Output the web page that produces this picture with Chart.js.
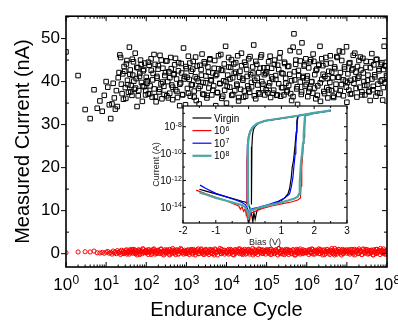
<!DOCTYPE html>
<html>
<head>
<meta charset="utf-8">
<script src="https://cdn.jsdelivr.net/npm/chart.js@4/dist/chart.umd.min.js"></script>
<style>
  html, body { margin: 0; padding: 0; background: #fff; }
  #wrap { position: relative; width: 398px; height: 322px; }
  #main { position: absolute; left: 0; top: 0; }
  #inset { position: absolute; left: 140px; top: 98px; }
</style>
</head>
<body>
<div id="wrap">
  <canvas id="main" width="398" height="322"></canvas>
  <canvas id="inset" width="215" height="152"></canvas>
</div>
<script>
// main plot: endurance, current (nA) vs cycle
const xTickValues = [1, 10, 100, 1e3, 1e4, 1e5, 1e6, 1e7, 1e8];
const xTickPowers = ['0', '1', '2', '3', '4', '5', '6', '7', '8'];
const yTicks = [0, 10, 20, 30, 40, 50];

const endCycles = [
  1, 2, 3, 4, 5, 6, 7, 8, 9, 10,
  11, 12, 13, 14, 15, 16, 17, 18, 19, 20, 21, 22, 23, 24, 25, 26, 27, 28,
  30, 32, 34, 36, 38, 40, 42, 44, 46, 48, 50, 53, 56, 59, 62, 65, 68, 72, 76, 80, 84, 88, 92, 96, 100,
  106, 112, 118, 125, 132, 140, 148, 157, 166, 176, 186, 197, 208, 220, 233, 246, 260, 275, 290, 307,
  325, 344, 364, 385, 407, 430, 455, 480, 510, 540, 570, 600, 640, 680, 720, 760, 800, 850, 900, 950,
  1000, 1060, 1120, 1180, 1250, 1320, 1400, 1480, 1570, 1660, 1760, 1860, 1970, 2080, 2200, 2330, 2460, 2600, 2750, 2900,
  3070, 3250, 3440, 3640, 3850, 4070, 4300, 4550, 4800, 5100, 5400, 5700, 6000, 6400, 6800, 7200, 7600, 8000, 8500, 9000, 9500,
  1.0e4, 1.07e4, 1.13e4, 1.2e4, 1.27e4, 1.35e4, 1.43e4, 1.52e4, 1.61e4, 1.7e4, 1.8e4, 1.9e4, 2.0e4, 2.12e4, 2.25e4, 2.38e4, 2.52e4, 2.67e4, 2.83e4, 3.0e4,
  3.18e4, 3.37e4, 3.57e4, 3.78e4, 4.0e4, 4.24e4, 4.5e4, 4.77e4, 5.05e4, 5.35e4, 5.67e4, 6.0e4, 6.36e4, 6.74e4, 7.14e4, 7.57e4, 8.02e4, 8.5e4, 9.0e4, 9.5e4,
  1.0e5, 1.06e5, 1.12e5, 1.19e5, 1.26e5, 1.33e5, 1.41e5, 1.5e5, 1.58e5, 1.68e5, 1.78e5, 1.88e5, 2.0e5, 2.1e5, 2.24e5, 2.37e5, 2.51e5, 2.7e5, 2.82e5, 2.99e5,
  3.16e5, 3.35e5, 3.55e5, 3.76e5, 3.98e5, 4.2e5, 4.57e5, 4.8e5, 5.0e5, 5.3e5, 5.6e5, 5.9e5, 6.2e5, 6.45e5, 6.9e5, 7.3e5, 7.6e5, 8.1e5, 8.6e5, 9.1e5, 9.5e5,
  1.0e6, 1.06e6, 1.12e6, 1.19e6, 1.26e6, 1.33e6, 1.41e6, 1.5e6, 1.58e6, 1.68e6, 1.78e6, 1.88e6, 2.0e6, 2.14e6, 2.2e6, 2.37e6, 2.51e6, 2.66e6, 2.82e6, 2.99e6,
  3.16e6, 3.35e6, 3.55e6, 3.76e6, 3.98e6, 4.2e6, 4.47e6, 4.7e6, 5.0e6, 5.3e6, 5.6e6, 5.95e6, 6.3e6, 6.5e6, 6.9e6, 7.3e6, 7.8e6, 8.2e6, 8.7e6, 9.2e6, 9.8e6,
  1.0e7, 1.06e7, 1.12e7, 1.19e7, 1.26e7, 1.33e7, 1.41e7, 1.5e7, 1.58e7, 1.68e7, 1.78e7, 1.88e7, 2.0e7, 2.11e7, 2.24e7, 2.37e7, 2.51e7, 2.66e7, 2.82e7, 2.99e7,
  3.16e7, 3.35e7, 3.55e7, 3.8e7, 3.98e7, 4.2e7, 4.47e7, 4.7e7, 5.0e7, 5.3e7, 5.6e7, 5.95e7, 6.3e7, 6.7e7, 7.1e7, 7.5e7, 7.8e7, 8.2e7, 8.5e7, 9.0e7, 9.5e7, 1.0e8,
  // second pass of readings, between the ones above
  29, 31, 33, 35, 39, 41, 45, 49, 54, 58, 63, 69, 75, 81, 87, 97,
  104, 113, 122, 133, 144, 156, 170, 184, 200, 217, 236, 256, 278, 302, 328, 356, 386, 419, 455, 494, 536, 582, 632, 686, 745, 809, 878, 970,
  1040, 1130, 1220, 1330, 1440, 1560, 1700, 1840, 2000, 2170, 2360, 2560, 2780, 3020, 3280, 3560, 3860, 4190, 4550, 4940, 5360, 5820, 6320, 6860, 7450, 8090, 8780, 9700,
  1.04e4, 1.13e4, 1.22e4, 1.33e4, 1.44e4, 1.56e4, 1.7e4, 1.84e4, 2.0e4, 2.17e4, 2.36e4, 2.56e4, 2.78e4, 3.02e4, 3.28e4, 3.56e4, 3.86e4, 4.19e4, 4.55e4, 4.94e4, 5.36e4, 5.82e4, 6.32e4, 6.86e4, 7.45e4, 8.09e4, 8.78e4, 9.7e4,
  1.04e5, 1.13e5, 1.22e5, 1.33e5, 1.44e5, 1.56e5, 1.7e5, 1.84e5, 2.0e5, 2.17e5, 2.36e5, 2.56e5, 2.78e5, 3.02e5, 3.28e5, 3.56e5, 3.86e5, 4.19e5, 4.55e5, 4.94e5, 5.36e5, 5.82e5, 6.32e5, 6.86e5, 7.45e5, 8.09e5, 8.78e5, 9.7e5,
  1.04e6, 1.13e6, 1.22e6, 1.33e6, 1.44e6, 1.56e6, 1.7e6, 1.84e6, 2.0e6, 2.17e6, 2.36e6, 2.56e6, 2.78e6, 3.02e6, 3.28e6, 3.56e6, 3.86e6, 4.19e6, 4.55e6, 4.94e6, 5.36e6, 5.82e6, 6.32e6, 6.86e6, 7.45e6, 8.09e6, 8.78e6, 9.7e6,
  1.04e7, 1.13e7, 1.22e7, 1.33e7, 1.44e7, 1.56e7, 1.7e7, 1.84e7, 2.0e7, 2.17e7, 2.36e7, 2.56e7, 2.78e7, 3.02e7, 3.28e7, 3.56e7, 3.86e7, 4.19e7, 4.55e7, 4.94e7, 5.36e7, 5.82e7, 6.32e7, 6.86e7, 7.45e7, 8.09e7, 8.78e7, 9.7e7
];

// high resistance state (black squares)
const hrsCurrent = [
  46.9, 41.4, 33.5, 31.4, 38.1, 33.8, 35.5, 33.1, 36.8, 40.0,
  38.7, 34.6, 31.4, 34.8, 39.6, 36.2, 33.6, 37.9, 34.2, 40.9, 42.1, 46.2, 45.6, 39.4, 37.2, 41.8, 35.9, 43.5,
  38.6, 44.1, 40.3, 37.5, 48.0, 42.7, 39.1, 36.8, 41.5, 44.6, 38.2, 46.6, 40.7, 34.2, 43.2, 37.9, 41.2, 45.0, 39.8, 35.4, 42.5, 38.8, 44.3, 36.9, 41.0,
  40.2, 37.1, 43.8, 39.0, 45.3, 36.4, 41.9, 38.3, 44.0, 35.3, 40.8, 42.9, 37.6, 46.1, 39.5, 36.0, 43.1, 38.9, 41.4, 44.8,
  36.7, 40.0, 42.3, 37.3, 45.6, 39.2, 35.8, 41.6, 43.9, 38.1, 40.6, 36.3, 44.4, 34.4, 39.7, 42.0, 37.0, 47.8, 41.2, 34.6,
  43.0, 38.4, 45.9, 40.5, 36.6, 42.4, 39.3, 44.7, 37.8, 41.1, 35.6, 43.6, 40.1, 34.8, 38.9, 42.8, 46.4, 39.8, 37.0, 44.2,
  41.3, 36.2, 43.4, 38.5, 45.1, 40.4, 36.9, 42.0, 39.0, 44.9, 34.4, 41.7, 37.4, 43.0, 39.6, 46.3, 36.1, 42.6, 40.2, 38.0, 48.2,
  35.0, 41.5, 45.6, 38.7, 43.3, 36.8, 40.9, 44.1, 37.9, 42.2, 39.4, 46.0, 35.5, 41.0, 38.2, 43.7, 40.7, 36.4, 44.5, 36.6,
  42.8, 39.0, 45.3, 37.5, 41.6, 38.8, 43.4, 48.5, 40.3, 36.0, 44.0, 39.2, 42.1, 37.1, 45.7, 40.0, 38.4, 43.2, 36.9, 41.9,
  42.3, 37.4, 44.6, 39.7, 36.3, 43.1, 40.6, 38.0, 45.0, 41.4, 36.8, 43.8, 39.5, 45.5, 36.6, 42.0, 38.6, 36.9, 44.2, 40.8,
  37.6, 43.5, 39.1, 41.7, 37.2, 35.6, 48.0, 51.1, 40.4, 44.0, 38.3, 34.7, 42.6, 46.9, 39.9, 37.0, 49.0, 41.2, 43.6, 38.9, 45.3,
  40.7, 36.5, 43.2, 38.4, 45.1, 39.9, 37.3, 44.7, 41.6, 36.0, 42.9, 39.0, 44.0, 48.2, 35.4, 40.5, 43.7, 37.7, 41.2, 45.6,
  38.6, 36.2, 42.4, 39.8, 44.3, 37.9, 40.9, 36.3, 43.0, 38.3, 45.8, 41.0, 37.0, 47.1, 42.1, 39.3, 46.9, 36.7, 43.4, 40.1, 48.1,
  35.2, 41.8, 38.0, 44.4, 40.3, 37.2, 43.0, 39.6, 46.6, 42.2, 36.4, 40.8, 44.9, 38.7, 42.7, 37.6, 45.4, 40.0, 36.9, 43.3,
  39.2, 41.5, 37.8, 35.6, 44.6, 40.6, 38.1, 43.9, 41.1, 36.6, 45.2, 39.4, 42.5, 37.3, 44.0, 40.4, 35.7, 42.8, 48.2, 39.7, 43.6, 41.0,
  42.4, 36.1, 44.9, 39.3, 41.7, 37.6, 45.2, 40.1, 38.5, 43.3, 36.7, 41.9, 44.0, 39.0, 42.8, 37.9,
  39.6, 44.5, 37.2, 42.6, 40.4, 46.3, 36.5, 41.2, 43.7, 38.2, 45.0, 39.9, 37.0, 42.1, 44.8, 36.2, 40.9, 43.0, 38.7, 41.8, 45.4, 37.7, 42.5, 39.4, 44.2, 36.9, 40.6, 43.5,
  41.0, 37.3, 44.3, 39.2, 42.9, 36.4, 45.7, 40.7, 38.4, 43.8, 41.5, 37.1, 44.6, 39.7, 36.8, 42.2, 45.3, 40.2, 38.0, 43.1, 41.4, 37.5, 46.0, 39.5, 42.7, 36.6, 44.1, 40.0,
  38.9, 43.4, 40.6, 45.1, 37.0, 41.9, 44.4, 39.1, 36.3, 42.4, 46.6, 40.3, 37.8, 43.9, 41.2, 38.3, 45.8, 39.8, 42.0, 36.7, 44.7, 40.8, 37.4, 43.1, 46.2, 39.4, 41.6, 38.1,
  43.2, 39.0, 45.9, 41.1, 37.3, 44.0, 40.5, 36.9, 42.8, 46.7, 38.6, 41.8, 44.5, 39.6, 37.9, 43.6, 47.2, 40.2, 36.5, 42.3, 45.0, 38.8, 41.4, 44.8, 37.6, 40.9, 43.9, 39.3,
  41.3, 37.7, 44.6, 40.0, 46.4, 38.5, 42.6, 36.8, 43.8, 39.7, 45.3, 41.7, 37.2, 44.1, 40.7, 38.1, 46.0, 42.2, 36.6, 43.4, 39.4, 45.6, 41.0, 37.9, 44.9, 40.4, 42.9, 38.7,
  39.8, 44.2, 37.1, 42.7, 46.1, 40.6, 38.4, 43.5, 41.2, 45.7, 36.9, 42.0, 39.1, 44.7, 40.3, 37.6, 43.2, 46.5, 38.9, 41.6, 45.1, 37.4, 42.9, 40.1, 44.4, 38.6, 43.7, 41.4
];

// low resistance state (red circles)
const lrsCurrent = [
  0.2, 0.4, 0.45, 0.4, 0.6, 0.2, 0.15, 0.3, 0.1, 0.35,
  0.5, 0.1, 0.3, -0.1, 0.6, 0.2, 0.4, 0.0, 0.7, 0.3, 0.2, 0.5, -0.2, 0.8, 0.1, 0.4, 0.6, 0.0, 0.3, 0.9,
  0.2, 0.5, -0.1, 0.7, 0.4, 1.0, 0.1, 0.6, 0.3, 0.8, 0.2, -0.3, 0.5, 0.9, 0.1, 0.4, 0.7, 0.0, 1.1, 0.3, 0.6, 0.2, 0.8,
  0.4, -0.2, 0.9, 0.3, 0.6, 0.1, 1.0, 0.5, -0.1, 0.7, 0.2, 0.8, 0.4, 0.0, 1.1, 0.3, 0.6, -0.3, 0.9, 0.5,
  0.2, 0.7, -0.1, 1.0, 0.4, 0.1, 0.8, 0.3, 0.6, -0.2, 0.9, 0.5, 0.0, 0.7, 1.2, 0.2, 0.4, -0.1, 0.8, 0.3,
  0.6, 0.1, 0.9, -0.2, 0.5, 0.8, 0.2, 1.0, 0.4, -0.3, 0.7, 0.3, 1.1, 0.0, 0.6, 0.9, 0.2, -0.1, 0.8, 0.4,
  1.0, 0.1, 0.5, -0.2, 0.7, 0.3, 0.9, 0.0, 0.6, 1.1, 0.2, 0.4, -0.3, 0.8, 0.5, 0.1, 1.0, 0.3, 0.7, -0.1, 0.4,
  0.2, 0.8, -0.1, 0.5, 1.0, 0.3, 0.6, -0.3, 0.9, 0.1, 0.7, 0.4, 1.1, 0.0, 0.5, 0.8, -0.2, 0.3, 1.0, 0.6,
  0.1, 0.9, 0.4, -0.1, 0.7, 0.2, 1.2, 0.5, 0.0, 0.8, 0.3, -0.2, 0.6, 1.0, 0.4, 0.1, 0.9, 0.3, 0.7, -0.1,
  0.5, 0.9, 0.1, 0.6, -0.2, 1.0, 0.3, 0.7, 0.0, 0.8, 0.4, -0.3, 1.1, 0.2, 0.6, 0.9, -0.1, 0.5, 0.3, 1.0,
  0.1, 0.7, -0.2, 0.8, 0.4, 0.0, 0.9, 0.6, 0.2, -0.3, 1.0, 0.5, 0.3, 0.8, -0.1, 0.6, 0.1, 0.9, 0.4, 0.7, 0.2,
  0.3, 0.7, -0.2, 0.9, 0.4, 0.1, 1.0, 0.6, -0.1, 0.8, 0.2, 0.5, 1.1, 0.0, 0.7, 0.3, -0.3, 0.9, 0.5, 0.1,
  1.0, 0.4, 0.6, -0.2, 0.8, 0.2, 0.7, 0.0, 1.2, 0.4, -0.1, 0.6, 0.9, 0.3, 0.5, -0.3, 1.0, 0.1, 0.8, 0.4, 0.6,
  0.1, 0.6, 0.9, -0.1, 0.4, 1.0, 0.2, 0.7, -0.3, 0.5, 0.8, 0.0, 1.1, 0.3, 0.6, -0.2, 0.9, 0.4, 0.1, 1.0,
  0.5, -0.1, 0.7, 0.2, 0.8, 0.3, -0.3, 0.9, 0.6, 0.0, 1.0, 0.4, 0.7, -0.2, 0.5, 0.8, 0.1, 1.1, 0.3, 0.6, -0.1, 0.4,
  0.3, 0.7, -0.1, 0.5, 0.9, 0.2, 0.6, 1.0, 0.0, 0.4, 0.8, -0.2, 0.5, 1.1, 0.3, 0.7,
  0.2, 0.9, 0.5, -0.2, 0.7, 1.1, 0.3, 0.0, 0.8, 0.4, 1.0, -0.1, 0.6, 0.2, 0.9, 0.5, -0.3, 0.7, 1.2, 0.1, 0.4, 0.8, -0.1, 0.6, 1.0, 0.3, 0.5, 0.0,
  0.8, 0.2, 0.5, 1.0, -0.1, 0.7, 0.3, 0.9, 0.0, 0.6, 1.1, 0.4, -0.2, 0.8, 0.2, 0.5, 1.0, 0.1, 0.7, -0.3, 0.9, 0.4, 0.6, 1.2, 0.0, 0.3, 0.8, 0.5,
  0.4, 1.0, 0.1, 0.7, -0.2, 0.5, 0.9, 0.3, 0.6, 1.1, 0.0, 0.8, 0.2, -0.1, 0.7, 1.0, 0.4, 0.5, -0.3, 0.9, 0.2, 0.6, 1.1, 0.3, 0.8, 0.0, 0.5, 0.9,
  0.7, 0.3, 1.0, -0.1, 0.6, 0.2, 0.9, 0.5, 1.2, 0.0, 0.4, 0.8, -0.2, 0.6, 1.0, 0.3, 0.7, 0.1, 0.9, -0.3, 0.5, 0.8, 0.2, 1.1, 0.4, 0.0, 0.7, 0.3,
  0.5, 0.9, 0.2, 1.1, -0.1, 0.6, 0.4, 0.8, 0.0, 1.0, 0.3, 0.7, -0.2, 0.5, 0.9, 0.1, 0.6, 1.2, 0.3, -0.3, 0.8, 0.4, 1.0, 0.2, 0.7, 0.0, 0.5, 0.9,
  0.6, 0.2, 0.9, 0.4, -0.1, 1.0, 0.5, 0.8, 0.1, 0.7, -0.2, 1.1, 0.3, 0.6, 0.9, 0.0, 0.5, 0.8, -0.3, 0.4, 1.0, 0.2, 0.7, 1.2, 0.3, 0.6, -0.1, 0.8
];

// inset: I-V sweeps, bias (V) and current (A)
const insetXTicks = [-2, -1, 0, 1, 2, 3];
const insetYTicks = [1e-8, 1e-10, 1e-12, 1e-14];
const insetYPowers = ['-8', '-10', '-12', '-14'];
const seriesNames = ['Virgin', '10^6', '10^7', '10^8'];
const seriesColors = ['#000000', '#ff0000', '#0000ff', '#48a8a4'];

const virginV = [-1.5, -1.3, -1.0, -0.7, -0.4, -0.2, -0.1, 0.0, 0.05, 0.1, 0.13, 0.16, 0.2, 0.25, 0.3, 0.5, 0.8, 1.0, 1.1, 1.2,
  1.25, 1.3, 1.33, 1.37, 1.4, 1.42, 1.45, 1.47, 1.5, 2.0, 2.5, 2.0, 1.5, 1.0, 0.5, 0.3, 0.2, 0.15, 0.12, 0.1, 0.09, 0.09, 0.08];
const virginI = [2.2e-13, 1.6e-13, 1.0e-13, 6.3e-14, 4.0e-14, 2.8e-14, 2.5e-14, 1.6e-14, 6.3e-15, 2.5e-15, 7.9e-16, 4.0e-15, 1.3e-15, 5.0e-15, 7.9e-15, 1.1e-14, 2.0e-14, 3.2e-14, 5.0e-14, 1.0e-13,
  2.5e-13, 1.6e-12, 1.0e-11, 3.2e-11, 1.6e-10, 5.0e-10, 4.0e-9, 2.5e-8, 6.6e-8, 1.05e-7, 1.55e-7, 1.0e-7, 6.3e-8, 4.1e-8, 2.7e-8, 1.8e-8, 1.07e-8, 6.3e-9, 2.5e-9, 3.2e-10, 1.0e-11, 4.0e-14, 1.6e-14];

const cyc6V = [-1.6, -1.3, -1.0, -0.7, -0.45, -0.3, -0.25, -0.2, -0.15, -0.1, -0.07, -0.04, -0.02, 0.0, 0.03, 0.06, 0.1, 0.2, 0.4, 0.7,
  1.0, 1.3, 1.5, 1.58, 1.6, 1.62, 1.64, 1.66, 1.69, 1.71, 1.73, 2.0, 2.5, 2.0, 1.5, 1.0, 0.5, 0.25, 0.12, 0.05, 0.0, -0.03, -0.05, -0.05, -0.05];
const cyc6I = [1.9e-13, 1.0e-13, 5.6e-14, 3.2e-14, 1.8e-14, 1.26e-14, 7.1e-15, 1.1e-14, 5.0e-15, 7.9e-15, 2.5e-15, 5.0e-15, 7.9e-16, 2.0e-15, 1.0e-15, 3.2e-15, 4.0e-15, 5.0e-15, 7.9e-15, 1.26e-14,
  1.8e-14, 2.5e-14, 3.5e-14, 5.0e-14, 4.0e-13, 1.0e-11, 4.0e-11, 2.5e-10, 1.6e-9, 1.0e-8, 6.8e-8, 1.05e-7, 1.6e-7, 1.05e-7, 6.5e-8, 4.2e-8, 2.75e-8, 1.6e-8, 7.9e-9, 4.0e-9, 1.26e-9, 3.2e-10, 3.2e-11, 3.2e-13, 1.6e-14];

const cyc7V = [-1.48, -1.3, -1.0, -0.7, -0.4, -0.2, -0.1, -0.03, 0.0, 0.02, 0.05, 0.1, 0.3, 0.6, 0.9, 1.1, 1.25, 1.3, 1.35, 1.38,
  1.42, 1.44, 1.47, 1.49, 1.52, 2.0, 2.5, 2.0, 1.5, 1.0, 0.5, 0.25, 0.12, 0.05, 0.0, -0.03, -0.04, -0.04, -0.03];
const cyc7I = [4.5e-13, 2.5e-13, 1.1e-13, 6.3e-14, 3.5e-14, 2.3e-14, 1.6e-14, 7.9e-15, 3.2e-15, 1.6e-15, 5.0e-15, 7.9e-15, 1.0e-14, 1.6e-14, 2.8e-14, 5.0e-14, 1.0e-13, 3.2e-13, 1.6e-12, 1.0e-11,
  1.0e-10, 5.0e-10, 5.0e-9, 3.2e-8, 6.8e-8, 1.05e-7, 1.6e-7, 1.07e-7, 6.6e-8, 4.3e-8, 2.8e-8, 1.66e-8, 8.9e-9, 5.0e-9, 2.0e-9, 5.0e-10, 3.2e-11, 3.2e-13, 1.6e-14];

const cyc8V = [-1.5, -1.3, -1.0, -0.7, -0.4, -0.2, -0.1, -0.04, 0.0, 0.03, 0.06, 0.1, 0.3, 0.6, 0.9, 1.2, 1.4, 1.5, 1.54, 1.56,
  1.58, 1.6, 1.63, 1.66, 1.68, 1.7, 1.72, 2.0, 2.5, 2.0, 1.5, 1.0, 0.5, 0.25, 0.12, 0.05, 0.0, -0.02, -0.02, -0.02, -0.01];
const cyc8I = [1.26e-13, 8.9e-14, 5.0e-14, 3.2e-14, 2.0e-14, 1.5e-14, 1.0e-14, 5.0e-15, 1.8e-15, 4.0e-15, 7.9e-15, 6.3e-15, 8.9e-15, 1.4e-14, 2.0e-14, 3.2e-14, 4.5e-14, 6.3e-14, 1.0e-13, 6.3e-13,
  5.0e-12, 2.5e-11, 1.0e-10, 6.3e-10, 2.5e-9, 1.6e-8, 6.6e-8, 1.05e-7, 1.6e-7, 1.07e-7, 6.6e-8, 4.3e-8, 2.8e-8, 1.66e-8, 8.9e-9, 4.5e-9, 1.6e-9, 4.0e-10, 3.2e-11, 3.2e-13, 1.0e-14];

const insetSeries = [[virginV, virginI], [cyc6V, cyc6I], [cyc7V, cyc7I], [cyc8V, cyc8I]];

const FAM = "'Liberation Sans', Arial, sans-serif";

// "10" with a raised exponent
function drawPow(ctx, base, sup, x, y, size, supSize, rise, align) {
  ctx.font = size + 'px ' + FAM;
  const w1 = ctx.measureText(base).width;
  ctx.font = supSize + 'px ' + FAM;
  const w2 = ctx.measureText(sup).width;
  let x0 = x;
  if (align === 'center') x0 = x - (w1 + w2) / 2;
  if (align === 'right') x0 = x - w1 - w2;
  ctx.textAlign = 'left';
  ctx.textBaseline = 'alphabetic';
  ctx.font = size + 'px ' + FAM;
  ctx.fillText(base, x0, y);
  ctx.font = supSize + 'px ' + FAM;
  ctx.fillText(sup, x0 + w1 + 0.3, y - rise);
  return w1 + w2;
}

function line(ctx, x1, y1, x2, y2) {
  ctx.beginPath();
  ctx.moveTo(x1, y1);
  ctx.lineTo(x2, y2);
  ctx.stroke();
}

// frame, ticks and power labels of the main plot
const mainFrame = {
  id: 'mainFrame',
  afterDraw(chart) {
    const { ctx, chartArea: a, scales: { x, y } } = chart;
    ctx.save();
    ctx.strokeStyle = '#000';
    ctx.fillStyle = '#000';
    ctx.lineWidth = 1;
    for (let k = 0; k < xTickValues.length; k++) {
      for (let m = 1; m < 10; m++) {
        const v = xTickValues[k] * m;
        if (v > 1e8) break;
        const px = x.getPixelForValue(v);
        const len = m === 1 ? 5 : 2.5;
        line(ctx, px, a.bottom, px, a.bottom - len);
        line(ctx, px, a.top, px, a.top + len);
      }
    }
    yTicks.forEach(v => {
      const py = y.getPixelForValue(v);
      line(ctx, a.left, py, a.left - 5, py);
      line(ctx, a.right, py, a.right - 5, py);
      const pm = y.getPixelForValue(v + 5);
      line(ctx, a.left, pm, a.left + 3, pm);
      line(ctx, a.right, pm, a.right - 3, pm);
    });
    ctx.lineWidth = 1.6;
    ctx.strokeRect(a.left, a.top, a.right - a.left, a.bottom - a.top);
    xTickValues.forEach((v, i) => {
      drawPow(ctx, '10', xTickPowers[i], x.getPixelForValue(v), 290, 17, 12, 6, 'center');
    });
    ctx.restore();
  }
};

new Chart(document.getElementById('main'), {
  type: 'scatter',
  data: {
    datasets: [{
      label: 'HRS',
      data: endCycles.map((c, i) => ({ x: c, y: hrsCurrent[i] })),
      pointStyle: 'rect',
      pointRadius: 3.2,
      borderColor: '#000',
      backgroundColor: 'rgba(0,0,0,0)',
      borderWidth: 1,
      order: 1
    }, {
      label: 'LRS',
      data: endCycles.map((c, i) => ({ x: c, y: lrsCurrent[i] })),
      pointStyle: 'circle',
      pointRadius: 2.1,
      borderColor: '#ff0000',
      backgroundColor: 'rgba(0,0,0,0)',
      borderWidth: 1,
      order: 2
    }]
  },
  options: {
    responsive: false,
    animation: false,
    events: [],
    layout: { padding: { top: 7, right: 11, left: 0, bottom: 0 } },
    plugins: { legend: { display: false }, tooltip: { enabled: false } },
    scales: {
      x: {
        type: 'logarithmic',
        min: 1,
        max: 1e8,
        afterFit(s) { s.height = 55; },
        ticks: { display: false },
        grid: { display: false, drawTicks: false },
        border: { display: false },
        title: {
          display: true, text: 'Endurance Cycle', color: '#000',
          font: { family: FAM, size: 20 }, padding: { top: 0, bottom: 0 }
        }
      },
      y: {
        min: -3.1,
        max: 55.2,
        afterFit(s) { s.width = 66; },
        afterBuildTicks(s) { s.ticks = yTicks.map(v => ({ value: v })); },
        ticks: { color: '#000', font: { family: FAM, size: 17 }, padding: 6 },
        grid: { display: false, drawTicks: false },
        border: { display: false },
        title: {
          display: true, text: 'Measured Current (nA)', color: '#000',
          font: { family: FAM, size: 20 }, padding: { top: 11, bottom: 0 }
        }
      }
    }
  },
  plugins: [mainFrame]
});

// inset: white box, frame, ticks, legend
const insetDeco = {
  id: 'insetDeco',
  beforeDatasetsDraw(chart) {
    const { ctx, chartArea: a } = chart;
    ctx.save();
    ctx.fillStyle = '#fff';
    ctx.fillRect(a.left, a.top, a.right - a.left, a.bottom - a.top);
    ctx.restore();
  },
  afterDraw(chart) {
    const { ctx, chartArea: a, scales: { x, y } } = chart;
    ctx.save();
    ctx.strokeStyle = '#000';
    ctx.fillStyle = '#000';
    ctx.lineWidth = 1;
    insetXTicks.forEach(v => {
      const px = x.getPixelForValue(v);
      line(ctx, px, a.bottom, px, a.bottom - 3);
      line(ctx, px, a.top, px, a.top + 3);
      if (v < 3) {
        const pm = x.getPixelForValue(v + 0.5);
        line(ctx, pm, a.bottom, pm, a.bottom - 2);
        line(ctx, pm, a.top, pm, a.top + 2);
      }
    });
    insetYTicks.forEach((v, i) => {
      const py = y.getPixelForValue(v);
      line(ctx, a.left, py, a.left + 3, py);
      line(ctx, a.right, py, a.right - 3, py);
      const pm = y.getPixelForValue(v * 10);
      line(ctx, a.left, pm, a.left + 2, pm);
      line(ctx, a.right, pm, a.right - 2, pm);
      drawPow(ctx, '10', insetYPowers[i], a.left - 1.5, py + 3.6, 10, 7, 3.5, 'right');
    });
    ctx.lineWidth = 1.2;
    ctx.strokeRect(a.left, a.top, a.right - a.left, a.bottom - a.top);
    // legend
    chart.data.datasets.forEach((ds, i) => {
      const ly = a.top + 12 + i * 12.6;
      ctx.strokeStyle = ds.borderColor;
      ctx.lineWidth = ds.borderWidth;
      line(ctx, a.left + 9.5, ly, a.left + 28.5, ly);
      ctx.fillStyle = '#000';
      const name = seriesNames[i];
      if (name.indexOf('^') >= 0) {
        const p = name.split('^');
        drawPow(ctx, p[0], p[1], a.left + 31, ly + 3.6, 10, 7, 3.5, 'left');
      } else {
        ctx.font = '10px ' + FAM;
        ctx.textAlign = 'left';
        ctx.textBaseline = 'alphabetic';
        ctx.fillText(name, a.left + 31, ly + 3.6);
      }
    });
    ctx.restore();
  }
};

new Chart(document.getElementById('inset'), {
  type: 'scatter',
  data: {
    datasets: insetSeries.map((s, k) => ({
      label: seriesNames[k],
      data: s[0].map((v, i) => ({ x: v, y: s[1][i] })),
      showLine: true,
      pointRadius: 0,
      borderColor: seriesColors[k],
      borderWidth: k === 3 ? 2.2 : 1.2,
      tension: 0,
      order: 3 - k
    }))
  },
  options: {
    responsive: false,
    animation: false,
    events: [],
    layout: { padding: { top: 8, right: 8, left: 0, bottom: 0 } },
    plugins: { legend: { display: false }, tooltip: { enabled: false } },
    scales: {
      x: {
        type: 'linear',
        min: -2,
        max: 3,
        afterFit(s) { s.height = 27; },
        afterBuildTicks(s) { s.ticks = insetXTicks.map(v => ({ value: v })); },
        ticks: { color: '#000', font: { family: FAM, size: 10 }, padding: 2 },
        grid: { display: false, drawTicks: false },
        border: { display: false },
        title: {
          display: true, text: 'Bias (V)', color: '#222',
          font: { family: FAM, size: 9 }, padding: { top: 0, bottom: 1.6 }
        }
      },
      y: {
        type: 'logarithmic',
        min: 6.8e-16,
        max: 3.5e-7,
        afterFit(s) { s.width = 43; },
        ticks: { display: false },
        grid: { display: false, drawTicks: false },
        border: { display: false },
        title: {
          display: true, text: 'Current (A)', color: '#222',
          font: { family: FAM, size: 9 }, padding: { top: 11.6, bottom: 0 }
        }
      }
    }
  },
  plugins: [insetDeco]
});
</script>
</body>
</html>
